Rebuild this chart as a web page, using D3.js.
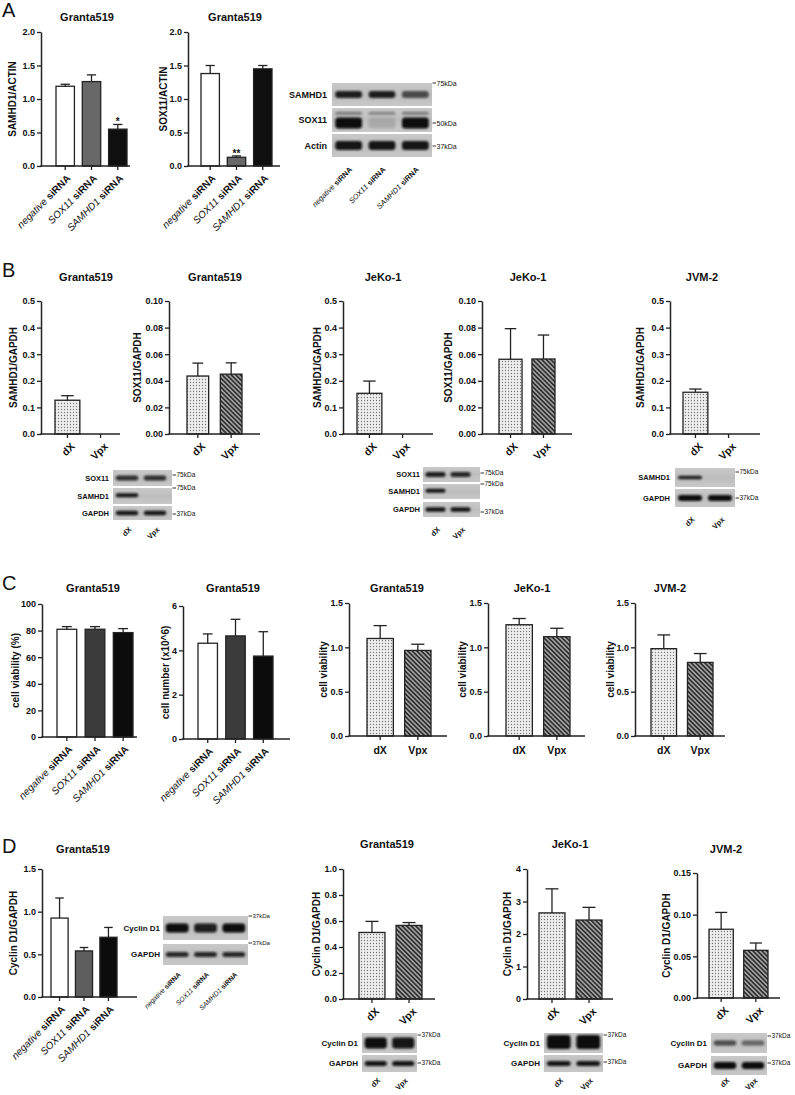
<!DOCTYPE html>
<html><head><meta charset="utf-8">
<script src="https://cdn.jsdelivr.net/npm/d3@7"></script>
<style>
body{margin:0;background:#fff}
svg{display:block}
text{font-family:"Liberation Sans",Arial,sans-serif;fill:#111}
</style></head>
<body><svg id="fig" width="795" height="1095"></svg>
<script>
// ---------------- DATA ----------------
const siRNAGroups = ["negative siRNA", "SOX11 siRNA", "SAMHD1 siRNA"];
const siRNAGene = ["negative", "SOX11", "SAMHD1"];
const vpxGroups = ["dX", "Vpx"];

// Panel A (Granta519, siRNA)
const aSamhd1Mean = [1.19, 1.26, 0.55];
const aSamhd1Err = [0.03, 0.10, 0.07];
const aSamhd1Sig = ["", "", "*"];
const aSox11Mean = [1.38, 0.13, 1.45];
const aSox11Err = [0.12, 0.02, 0.05];
const aSox11Sig = ["", "**", ""];
const aTicks = [0, 0.5, 1.0, 1.5, 2.0];

// Panel B (dX / Vpx)
const bGrantaSamhd1Mean = [0.127, 0];
const bGrantaSamhd1Err = [0.017, 0];
const bGrantaSox11Mean = [0.0436, 0.045];
const bGrantaSox11Err = [0.0097, 0.0085];
const bJekoSamhd1Mean = [0.153, 0];
const bJekoSamhd1Err = [0.046, 0];
const bJekoSox11Mean = [0.0562, 0.0564];
const bJekoSox11Err = [0.023, 0.018];
const bJvmSamhd1Mean = [0.157, 0];
const bJvmSamhd1Err = [0.012, 0];
const bSamhd1Ticks = [0, 0.1, 0.2, 0.3, 0.4, 0.5];
const bSox11Ticks = [0, 0.02, 0.04, 0.06, 0.08, 0.10];

// Panel C
const cViabilityMean = [81, 81, 78.5];
const cViabilityErr = [2, 2, 3];
const cViabilityTicks = [0, 20, 40, 60, 80, 100];
const cNumberMean = [4.32, 4.65, 3.74];
const cNumberErr = [0.42, 0.75, 1.1];
const cNumberTicks = [0, 2, 4, 6];
const cGrantaMean = [1.10, 0.965];
const cGrantaErr = [0.145, 0.07];
const cJekoMean = [1.255, 1.12];
const cJekoErr = [0.07, 0.095];
const cJvmMean = [0.985, 0.83];
const cJvmErr = [0.155, 0.10];
const cVpxTicks = [0, 0.5, 1.0, 1.5];

// Panel D
const dSiMean = [0.925, 0.54, 0.70];
const dSiErr = [0.235, 0.04, 0.115];
const dSiTicks = [0, 0.5, 1.0, 1.5];
const dGrantaMean = [0.512, 0.566];
const dGrantaErr = [0.085, 0.022];
const dGrantaTicks = [0, 0.2, 0.4, 0.6, 0.8, 1.0];
const dJekoMean = [2.65, 2.43];
const dJekoErr = [0.74, 0.39];
const dJekoTicks = [0, 1, 2, 3, 4];
const dJvmMean = [0.0825, 0.0572];
const dJvmErr = [0.0202, 0.0088];
const dJvmTicks = [0, 0.05, 0.10, 0.15];

// Western blot band intensities (per lane)
const blotA_SAMHD1 = [0.9, 0.9, 0.65];
const blotA_SOX11_upper = [0.4, 0.35, 0.4];
const blotA_SOX11 = [1.0, 0.12, 1.0];
const blotA_Actin = [0.95, 0.95, 0.95];
const blotBG_SOX11 = [0.8, 0.8];
const blotBG_SAMHD1 = [0.95, 0];
const blotBG_GAPDH = [0.95, 0.95];
const blotBJ_SOX11 = [0.9, 0.85];
const blotBJ_SAMHD1 = [0.95, 0];
const blotBJ_GAPDH = [0.95, 0.95];
const blotBV_SAMHD1 = [0.9, 0];
const blotBV_GAPDH = [1.0, 1.0];
const blotD1_Cyclin = [1.0, 0.9, 1.0];
const blotD1_GAPDH = [0.85, 0.85, 0.85];
const blotDG_Cyclin = [1.0, 0.95];
const blotDG_GAPDH = [0.95, 0.95];
const blotDJ_Cyclin = [1.0, 1.0];
const blotDJ_GAPDH = [0.95, 0.95];
const blotDV_Cyclin = [0.65, 0.5];
const blotDV_GAPDH = [1.0, 1.0];

// ---------------- STYLES ----------------
const fillsA = ["#ffffff", "#686868", "#0f0f0f"];
const fillsC = ["#ffffff", "#3b3b3b", "#0c0c0c"];
const fillsD = ["#ffffff", "#5e5e5e", "#0c0c0c"];
const fillsVpx = ["url(#dots)", "url(#hatch)"];

const svg = d3.select("#fig");
const defs = svg.append("defs");
const dots = defs.append("pattern").attr("id", "dots").attr("patternUnits", "userSpaceOnUse").attr("width", 3).attr("height", 3);
dots.append("rect").attr("width", 3).attr("height", 3).attr("fill", "#eeeeee");
dots.append("circle").attr("cx", 1.5).attr("cy", 1.5).attr("r", 0.7).attr("fill", "#7a7a7a");
const hatch = defs.append("pattern").attr("id", "hatch").attr("patternUnits", "userSpaceOnUse")
  .attr("width", 3.2).attr("height", 3.2).attr("patternTransform", "rotate(-45)");
hatch.append("rect").attr("width", 3.2).attr("height", 3.2).attr("fill", "#a0a0a0");
hatch.append("line").attr("x1", 0.8).attr("x2", 0.8).attr("y1", 0).attr("y2", 3.2).attr("stroke", "#262626").attr("stroke-width", 1.5);
const blur = defs.append("filter").attr("id", "blur").attr("x", "-50%").attr("y", "-100%").attr("width", "200%").attr("height", "300%");
blur.append("feGaussianBlur").attr("stdDeviation", 1.0);
const bg = defs.append("linearGradient").attr("id", "blotbg").attr("x1", 0).attr("x2", 0).attr("y1", 0).attr("y2", 1);
bg.append("stop").attr("offset", 0).attr("stop-color", "#c9c9c9");
bg.append("stop").attr("offset", 0.5).attr("stop-color", "#bdbdbd");
bg.append("stop").attr("offset", 1).attr("stop-color", "#c8c8c8");

// ---------------- CHARTS ----------------
const charts = [
  {title: "Granta519", tx: 87, ty: 21, yl: "SAMHD1/ACTIN", ylx: 12, x0: 41, x1: 130, y0: 166, y1: 32, ticks: aTicks, fmt: ".1f",
   cats: siRNAGroups, mean: aSamhd1Mean, err: aSamhd1Err, sig: aSamhd1Sig, fills: fillsA, bars: [56, 127], pad: 0.3, xl: "si"},
  {title: "Granta519", tx: 235, ty: 21, yl: "SOX11/ACTIN", ylx: 163, x0: 188, x1: 280, y0: 166, y1: 32, ticks: aTicks, fmt: ".1f",
   cats: siRNAGroups, mean: aSox11Mean, err: aSox11Err, sig: aSox11Sig, fills: fillsA, bars: [201, 272], pad: 0.3, xl: "si"},

  {title: "Granta519", tx: 86, ty: 281, yl: "SAMHD1/GAPDH", ylx: 13, x0: 41, x1: 120, y0: 434, y1: 301, ticks: bSamhd1Ticks, fmt: ".1f",
   cats: vpxGroups, mean: bGrantaSamhd1Mean, err: bGrantaSamhd1Err, fills: fillsVpx, bars: [55, 113], pad: 0.25, xl: "rot"},
  {title: "Granta519", tx: 215, ty: 281, yl: "SOX11/GAPDH", ylx: 137, x0: 169, x1: 260, y0: 434, y1: 301, ticks: bSox11Ticks, fmt: ".2f",
   cats: vpxGroups, mean: bGrantaSox11Mean, err: bGrantaSox11Err, fills: fillsVpx, bars: [187, 242], pad: 0.35, xl: "rot"},
  {title: "JeKo-1", tx: 383, ty: 281, yl: "SAMHD1/GAPDH", ylx: 317, x0: 343, x1: 433, y0: 434, y1: 301, ticks: bSamhd1Ticks, fmt: ".1f",
   cats: vpxGroups, mean: bJekoSamhd1Mean, err: bJekoSamhd1Err, fills: fillsVpx, bars: [357, 415], pad: 0.25, xl: "rot"},
  {title: "JeKo-1", tx: 528, ty: 281, yl: "SOX11/GAPDH", ylx: 448, x0: 482, x1: 572, y0: 434, y1: 301, ticks: bSox11Ticks, fmt: ".2f",
   cats: vpxGroups, mean: bJekoSox11Mean, err: bJekoSox11Err, fills: fillsVpx, bars: [499, 555], pad: 0.3, xl: "rot"},
  {title: "JVM-2", tx: 702, ty: 281, yl: "SAMHD1/GAPDH", ylx: 640, x0: 670, x1: 760, y0: 434, y1: 301, ticks: bSamhd1Ticks, fmt: ".1f",
   cats: vpxGroups, mean: bJvmSamhd1Mean, err: bJvmSamhd1Err, fills: fillsVpx, bars: [683, 741], pad: 0.25, xl: "rot"},

  {title: "Granta519", tx: 93, ty: 592, yl: "cell viability (%)", ylx: 15, x0: 42, x1: 137, y0: 737, y1: 604, ticks: cViabilityTicks, fmt: "d",
   cats: siRNAGroups, mean: cViabilityMean, err: cViabilityErr, fills: fillsC, bars: [57, 133], pad: 0.3, xl: "si"},
  {title: "Granta519", tx: 233, ty: 592, yl: "cell number (x10^6)", ylx: 165, x0: 183, x1: 290, y0: 739, y1: 606, ticks: cNumberTicks, fmt: "d",
   cats: siRNAGroups, mean: cNumberMean, err: cNumberErr, fills: fillsC, bars: [198, 273], pad: 0.3, xl: "si"},
  {title: "Granta519", tx: 397, ty: 592, yl: "cell viability", ylx: 323, x0: 349, x1: 447, y0: 736, y1: 603, ticks: cVpxTicks, fmt: ".1f",
   cats: vpxGroups, mean: cGrantaMean, err: cGrantaErr, fills: fillsVpx, bars: [367, 431], pad: 0.3, xl: "flat"},
  {title: "JeKo-1", tx: 532, ty: 592, yl: "cell viability", ylx: 462, x0: 488, x1: 585, y0: 736, y1: 603, ticks: cVpxTicks, fmt: ".1f",
   cats: vpxGroups, mean: cJekoMean, err: cJekoErr, fills: fillsVpx, bars: [506, 570], pad: 0.3, xl: "flat"},
  {title: "JVM-2", tx: 670, ty: 592, yl: "cell viability", ylx: 610, x0: 635, x1: 725, y0: 736, y1: 603, ticks: cVpxTicks, fmt: ".1f",
   cats: vpxGroups, mean: cJvmMean, err: cJvmErr, fills: fillsVpx, bars: [651, 713], pad: 0.3, xl: "flat"},

  {title: "Granta519", tx: 83, ty: 853, yl: "Cyclin D1/GAPDH", ylx: 13, x0: 42, x1: 137, y0: 997, y1: 869, ticks: dSiTicks, fmt: ".1f",
   cats: siRNAGroups, mean: dSiMean, err: dSiErr, fills: fillsD, bars: [51, 117], pad: 0.3, xl: "si"},
  {title: "Granta519", tx: 387, ty: 848, yl: "Cyclin D1/GAPDH", ylx: 316, x0: 343, x1: 435, y0: 999, y1: 869, ticks: dGrantaTicks, fmt: ".1f",
   cats: vpxGroups, mean: dGrantaMean, err: dGrantaErr, fills: fillsVpx, bars: [359, 422], pad: 0.3, xl: "rot"},
  {title: "JeKo-1", tx: 570, ty: 848, yl: "Cyclin D1/GAPDH", ylx: 507, x0: 527, x1: 613, y0: 999, y1: 869, ticks: dJekoTicks, fmt: "d",
   cats: vpxGroups, mean: dJekoMean, err: dJekoErr, fills: fillsVpx, bars: [539, 602], pad: 0.3, xl: "rot"},
  {title: "JVM-2", tx: 726, ty: 853, yl: "Cyclin D1/GAPDH", ylx: 666, x0: 697, x1: 780, y0: 998, y1: 873, ticks: dJvmTicks, fmt: ".2f",
   cats: vpxGroups, mean: dJvmMean, err: dJvmErr, fills: fillsVpx, bars: [709, 768], pad: 0.3, xl: "rot"}
];

function siLabel(sel, i, size) {
  sel.attr("font-size", size);
  sel.append("tspan").attr("font-style", "italic").attr("font-weight", "normal").text(siRNAGene[i]);
  sel.append("tspan").attr("font-weight", "bold").text(" siRNA");
}

function drawChart(c) {
  const g = svg.append("g");
  const yMax = c.ticks[c.ticks.length - 1];
  const y = d3.scaleLinear().domain([0, yMax]).range([c.y0, c.y1]);
  const x = d3.scaleBand().domain(c.cats).range(c.bars).paddingInner(c.pad).paddingOuter(0);
  const bw = x.bandwidth();
  const rows = c.cats.map((k, i) => ({k, i, v: c.mean[i], e: c.err[i], f: c.fills[i], s: c.sig ? c.sig[i] : ""}));
  const nz = rows.filter(d => d.v > 0);

  g.selectAll("rect.bar").data(nz).join("rect").attr("class", "bar")
    .attr("x", d => x(d.k)).attr("width", bw)
    .attr("y", d => y(d.v)).attr("height", d => y(0) - y(d.v))
    .attr("fill", d => d.f).attr("stroke", "#222").attr("stroke-width", 1.3);
  g.selectAll("line.eb").data(nz).join("line").attr("class", "eb")
    .attr("x1", d => x(d.k) + bw / 2).attr("x2", d => x(d.k) + bw / 2)
    .attr("y1", d => y(d.v)).attr("y2", d => y(d.v + d.e))
    .attr("stroke", "#222").attr("stroke-width", 1.3);
  g.selectAll("line.cap").data(nz).join("line").attr("class", "cap")
    .attr("x1", d => x(d.k) + bw * 0.25).attr("x2", d => x(d.k) + bw * 0.75)
    .attr("y1", d => y(d.v + d.e)).attr("y2", d => y(d.v + d.e))
    .attr("stroke", "#222").attr("stroke-width", 1.3);
  g.selectAll("text.sig").data(nz.filter(d => d.s)).join("text").attr("class", "sig")
    .attr("x", d => x(d.k) + bw / 2).attr("y", d => y(d.v + d.e) + 1)
    .attr("text-anchor", "middle").attr("font-size", 10).attr("font-weight", "bold").text(d => d.s);

  const ya = g.append("g").attr("transform", `translate(${c.x0},0)`)
    .call(d3.axisLeft(y).tickValues(c.ticks).tickFormat(d3.format(c.fmt)).tickSize(4).tickSizeOuter(0).tickPadding(2));
  ya.select(".domain").attr("stroke", "#222").attr("stroke-width", 1.5);
  ya.selectAll(".tick line").attr("stroke", "#222").attr("stroke-width", 1.3);
  ya.selectAll(".tick text").attr("font-family", "Liberation Sans, Arial, sans-serif").attr("font-size", 9).attr("font-weight", "bold").attr("fill", "#111");
  g.append("line").attr("x1", c.x0 - 0.75).attr("x2", c.x1).attr("y1", c.y0).attr("y2", c.y0).attr("stroke", "#222").attr("stroke-width", 1.5);
  g.selectAll("line.xt").data(rows).join("line").attr("class", "xt")
    .attr("x1", d => x(d.k) + bw / 2).attr("x2", d => x(d.k) + bw / 2)
    .attr("y1", c.y0).attr("y2", c.y0 + 4).attr("stroke", "#222").attr("stroke-width", 1.3);

  if (c.xl === "si") {
    rows.forEach(d => {
      const t = g.append("text").attr("text-anchor", "end")
        .attr("transform", `translate(${x(d.k) + bw / 2 + 6},${c.y0 + 13}) rotate(-45)`);
      siLabel(t, d.i, 10);
    });
  } else if (c.xl === "rot") {
    g.selectAll("text.xl").data(rows).join("text").attr("class", "xl").attr("text-anchor", "end")
      .attr("transform", d => `translate(${x(d.k) + bw / 2 + 8},${c.y0 + 13}) rotate(-45)`)
      .attr("font-size", 10.5).attr("font-weight", "bold").text(d => d.k);
  } else {
    g.selectAll("text.xl").data(rows).join("text").attr("class", "xl").attr("text-anchor", "middle")
      .attr("x", d => x(d.k) + bw / 2).attr("y", c.y0 + 18)
      .attr("font-size", 10.5).attr("font-weight", "bold").text(d => d.k);
  }
  g.append("text").attr("x", c.tx).attr("y", c.ty).attr("text-anchor", "middle")
    .attr("font-size", 11).attr("font-weight", "bold").text(c.title);
  g.append("text").attr("transform", `translate(${c.ylx + 3.5},${(c.y0 + c.y1) / 2}) rotate(-90)`)
    .attr("text-anchor", "middle").attr("font-size", 10).attr("font-weight", "bold").text(c.yl);
}
charts.forEach(drawChart);

// ---------------- BLOTS ----------------
let clipN = 0;
const blots = [
  {box: [332, 432], laneRange: [332, 432], lanes: siRNAGroups, labelX: 327, labelSize: 9, kSize: 7,
   rows: [
     {name: "SAMHD1", y: [83, 106], layers: [{vals: blotA_SAMHD1, pos: 0.5, h: 7}]},
     {name: "SOX11", y: [108, 132], layers: [{vals: blotA_SOX11_upper, pos: 0.22, h: 3}, {vals: blotA_SOX11, pos: 0.62, h: 11}]},
     {name: "Actin", y: [134, 157], layers: [{vals: blotA_Actin, pos: 0.5, h: 9}]}],
   kda: [{t: "75kDa", y: 83}, {t: "50kDa", y: 123}, {t: "37kDa", y: 146}],
   laneLab: "si", laneLabY: 170, laneSize: 7.5},
  {box: [113, 172], laneRange: [113, 169], lanes: vpxGroups, labelX: 109, labelSize: 7.5, kSize: 6.5,
   rows: [
     {name: "SOX11", y: [470, 486], layers: [{vals: blotBG_SOX11, pos: 0.5, h: 5}]},
     {name: "SAMHD1", y: [488, 504], layers: [{vals: blotBG_SAMHD1, pos: 0.45, h: 4}]},
     {name: "GAPDH", y: [506, 520], layers: [{vals: blotBG_GAPDH, pos: 0.5, h: 4.5}]}],
   kda: [{t: "75kDa", y: 475}, {t: "75kDa", y: 488}, {t: "37kDa", y: 514}],
   laneLab: "rot", laneLabY: 530, laneSize: 7.5},
  {box: [423, 480], laneRange: [423, 473], lanes: vpxGroups, labelX: 420, labelSize: 7.5, kSize: 6.5,
   rows: [
     {name: "SOX11", y: [467, 482], layers: [{vals: blotBJ_SOX11, pos: 0.5, h: 5}]},
     {name: "SAMHD1", y: [484, 499], layers: [{vals: blotBJ_SAMHD1, pos: 0.45, h: 4}]},
     {name: "GAPDH", y: [502, 517], layers: [{vals: blotBJ_GAPDH, pos: 0.5, h: 4.5}]}],
   kda: [{t: "75kDa", y: 473}, {t: "75kDa", y: 484}, {t: "37kDa", y: 512}],
   laneLab: "rot", laneLabY: 530, laneSize: 7.5},
  {box: [675, 735], laneRange: [675, 735], lanes: vpxGroups, labelX: 670, labelSize: 7.5, kSize: 6.5,
   rows: [
     {name: "SAMHD1", y: [468, 487], layers: [{vals: blotBV_SAMHD1, pos: 0.5, h: 3.5}]},
     {name: "GAPDH", y: [489, 507], layers: [{vals: blotBV_GAPDH, pos: 0.5, h: 6}]}],
   kda: [{t: "75kDa", y: 472}, {t: "37kDa", y: 498}],
   laneLab: "rot", laneLabY: 520, laneSize: 7.5},
  {box: [163, 248], laneRange: [163, 248], lanes: siRNAGroups, labelX: 160, labelSize: 8, kSize: 6,
   rows: [
     {name: "Cyclin D1", y: [916, 940], layers: [{vals: blotD1_Cyclin, pos: 0.5, h: 9}]},
     {name: "GAPDH", y: [944, 965], layers: [{vals: blotD1_GAPDH, pos: 0.5, h: 5}]}],
   kda: [{t: "37kDa", y: 916}, {t: "37kDa", y: 943}],
   laneLab: "si", laneLabY: 975, laneSize: 6.8},
  {box: [362, 417], laneRange: [362, 417], lanes: vpxGroups, labelX: 358, labelSize: 8, kSize: 6.5,
   rows: [
     {name: "Cyclin D1", y: [1033, 1053], layers: [{vals: blotDG_Cyclin, pos: 0.5, h: 11}]},
     {name: "GAPDH", y: [1055, 1072], layers: [{vals: blotDG_GAPDH, pos: 0.5, h: 5}]}],
   kda: [{t: "37kDa", y: 1035}, {t: "37kDa", y: 1063}],
   laneLab: "rot", laneLabY: 1081, laneSize: 7.5},
  {box: [544, 603], laneRange: [544, 603], lanes: vpxGroups, labelX: 540, labelSize: 8, kSize: 6.5,
   rows: [
     {name: "Cyclin D1", y: [1033, 1053], layers: [{vals: blotDJ_Cyclin, pos: 0.45, h: 14}]},
     {name: "GAPDH", y: [1055, 1072], layers: [{vals: blotDJ_GAPDH, pos: 0.5, h: 5}]}],
   kda: [{t: "37kDa", y: 1035}, {t: "37kDa", y: 1062}],
   laneLab: "rot", laneLabY: 1081, laneSize: 7.5},
  {box: [711, 767], laneRange: [711, 767], lanes: vpxGroups, labelX: 707, labelSize: 8, kSize: 6.5,
   rows: [
     {name: "Cyclin D1", y: [1033, 1053], layers: [{vals: blotDV_Cyclin, pos: 0.5, h: 5}]},
     {name: "GAPDH", y: [1056, 1075], layers: [{vals: blotDV_GAPDH, pos: 0.5, h: 7}]}],
   kda: [{t: "37kDa", y: 1036}, {t: "37kDa", y: 1063}],
   laneLab: "rot", laneLabY: 1081, laneSize: 7.5}
];

function drawBlot(b) {
  const g = svg.append("g");
  const lane = d3.scaleBand().domain(b.lanes).range(b.laneRange).padding(0);
  const lw = lane.bandwidth();
  b.rows.forEach(r => {
    const id = "clip" + (clipN++);
    defs.append("clipPath").attr("id", id).append("rect")
      .attr("x", b.box[0]).attr("y", r.y[0]).attr("width", b.box[1] - b.box[0]).attr("height", r.y[1] - r.y[0]);
    g.append("rect").attr("x", b.box[0]).attr("y", r.y[0]).attr("width", b.box[1] - b.box[0]).attr("height", r.y[1] - r.y[0])
      .attr("fill", "url(#blotbg)");
    const rg = g.append("g").attr("clip-path", `url(#${id})`);
    r.layers.forEach(L => {
      const cy = r.y[0] + (r.y[1] - r.y[0]) * L.pos;
      rg.selectAll(null).data(L.vals.map((v, i) => ({v, k: b.lanes[i]})).filter(d => d.v > 0)).join("rect")
        .attr("x", d => lane(d.k) + lw * 0.1).attr("width", lw * 0.8)
        .attr("y", cy - L.h / 2).attr("height", L.h).attr("rx", Math.min(L.h / 2, 3))
        .attr("fill", "#0a0a0a").attr("opacity", d => d.v).attr("filter", "url(#blur)");
    });
    g.append("text").attr("x", b.labelX).attr("y", (r.y[0] + r.y[1]) / 2 + b.labelSize * 0.36)
      .attr("text-anchor", "end").attr("font-size", b.labelSize).attr("font-weight", "bold").text(r.name);
  });
  b.kda.forEach(k => {
    g.append("line").attr("x1", b.box[1] + 0.5).attr("x2", b.box[1] + 4).attr("y1", k.y).attr("y2", k.y)
      .attr("stroke", "#333").attr("stroke-width", 1);
    g.append("text").attr("x", b.box[1] + 4.5).attr("y", k.y + b.kSize * 0.36)
      .attr("font-size", b.kSize).attr("fill", "#222").text(k.t);
  });
  if (b.laneLab === "si") {
    b.lanes.forEach((k, i) => {
      const t = g.append("text").attr("text-anchor", "end")
        .attr("transform", `translate(${lane(k) + lw / 2 + 4},${b.laneLabY}) rotate(-45)`);
      siLabel(t, i, b.laneSize);
    });
  } else {
    b.lanes.forEach(k => {
      g.append("text").attr("text-anchor", "end")
        .attr("transform", `translate(${lane(k) + lw / 2 + 5},${b.laneLabY}) rotate(-45)`)
        .attr("font-size", b.laneSize).attr("font-weight", "bold").text(k);
    });
  }
}
blots.forEach(drawBlot);

const letters = [{t: "A", y: 17}, {t: "B", y: 277}, {t: "C", y: 590}, {t: "D", y: 853}];
svg.selectAll("text.letter").data(letters).join("text").attr("class", "letter")
  .attr("x", 2).attr("y", d => d.y).attr("font-size", 20).text(d => d.t);
</script>
</body></html>
